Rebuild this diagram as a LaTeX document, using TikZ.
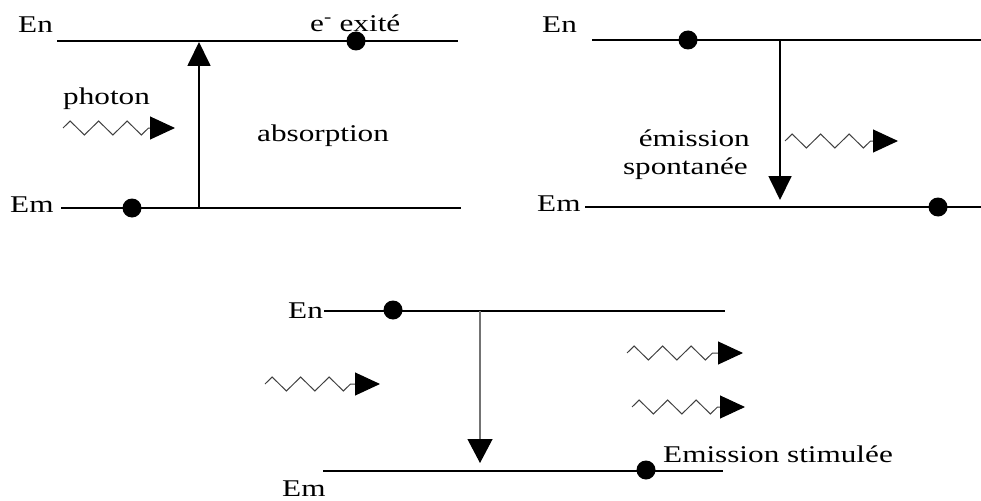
\documentclass[tikz,border=0pt]{standalone}
\usepackage{fontspec}
\setmainfont{Liberation Serif}[FakeStretch=1.3]
\usetikzlibrary{arrows.meta,decorations.pathmorphing}
\begin{document}
\begin{tikzpicture}[x=1pt,y=-1pt,
  level/.style={line width=1.8pt},
  lbl/.style={font=\fontsize{24}{28}\selectfont, inner sep=0pt, anchor=base west},
  lblr/.style={font=\fontsize{24}{28}\selectfont, inner sep=0pt, anchor=base east},
  dot/.style={circle, fill=black, inner sep=0pt, minimum size=19pt},
  trans/.style={line width=1.8pt, -{Triangle[length=24pt,width=23pt]}},
  thintrans/.style={line width=1.2pt, draw=black!55, -{Triangle[length=24pt,width=25pt,color=black]}},
  photon/.style={line width=1pt, draw=black!75, decorate,
    decoration={zigzag, segment length=28.5pt, amplitude=7pt, post length=26pt},
    -{Triangle[length=25pt,width=23pt,color=black]}}
]
\useasboundingbox (0,0) rectangle (981,500);

% ---------- Panel 1 : absorption ----------
\coordinate (A-en-l) at (57,41);  \coordinate (A-en-r) at (458,41);
\coordinate (A-em-l) at (61,208); \coordinate (A-em-r) at (461,208);
\draw[level] (A-en-l) -- (A-en-r);
\draw[level] (A-em-l) -- (A-em-r);
\node[lbl] (A-En) at (18,33) {En};
\node[lbl] (A-Em) at (10,212) {Em};
\node[lbl] (A-exc) at (310,32) {e\textsuperscript{-} exité};
\node[lbl] (A-ph) at (63,104) {photon};
\node[lbl] (A-abs) at (257,141) {absorption};
\coordinate (A-t0) at (199,208); \coordinate (A-t1) at (199,42);
\draw[trans] (A-t0) -- (A-t1);
\node[dot] (A-d1) at (132,208) {};
\node[dot] (A-d2) at (356,41) {};
\coordinate (A-p0) at (63,128); \coordinate (A-p1) at (175,128);
\draw[photon] (A-p0) -- (A-p1);

% ---------- Panel 2 : emission spontanee ----------
\coordinate (B-en-l) at (592,40);  \coordinate (B-en-r) at (981,40);
\coordinate (B-em-l) at (585,207); \coordinate (B-em-r) at (981,207);
\draw[level] (B-en-l) -- (B-en-r);
\draw[level] (B-em-l) -- (B-em-r);
\node[lbl] (B-En) at (542,33) {En};
\node[lbl] (B-Em) at (537,211) {Em};
\node[lblr] (B-em1) at (750,146) {émission};
\node[lblr] (B-em2) at (748,174) {spontanée};
\coordinate (B-t0) at (780,40); \coordinate (B-t1) at (780,200);
\draw[trans] (B-t0) -- (B-t1);
\node[dot] (B-d1) at (688,40) {};
\node[dot] (B-d2) at (938,207) {};
\coordinate (B-p0) at (785,141); \coordinate (B-p1) at (898,141);
\draw[photon] (B-p0) -- (B-p1);

% ---------- Panel 3 : emission stimulee ----------
\coordinate (C-en-l) at (324,311); \coordinate (C-en-r) at (725,311);
\coordinate (C-em-l) at (323,471); \coordinate (C-em-r) at (723,471);
\draw[level] (C-en-l) -- (C-en-r);
\draw[level] (C-em-l) -- (C-em-r);
\node[lbl] (C-En) at (288,318) {En};
\node[lbl] (C-Em) at (282,496) {Em};
\node[lbl] (C-st) at (663,462) {Emission stimulée};
\coordinate (C-t0) at (480,311); \coordinate (C-t1) at (480,463);
\draw[thintrans] (C-t0) -- (C-t1);
\node[dot] (C-d1) at (393,310) {};
\node[dot] (C-d2) at (646,470) {};
\coordinate (C-p0) at (265,384); \coordinate (C-p1) at (380,384);
\draw[photon] (C-p0) -- (C-p1);
\coordinate (C-q0) at (627,353); \coordinate (C-q1) at (743,353);
\draw[photon] (C-q0) -- (C-q1);
\coordinate (C-r0) at (632,407); \coordinate (C-r1) at (745,407);
\draw[photon] (C-r0) -- (C-r1);
\end{tikzpicture}
\end{document}
